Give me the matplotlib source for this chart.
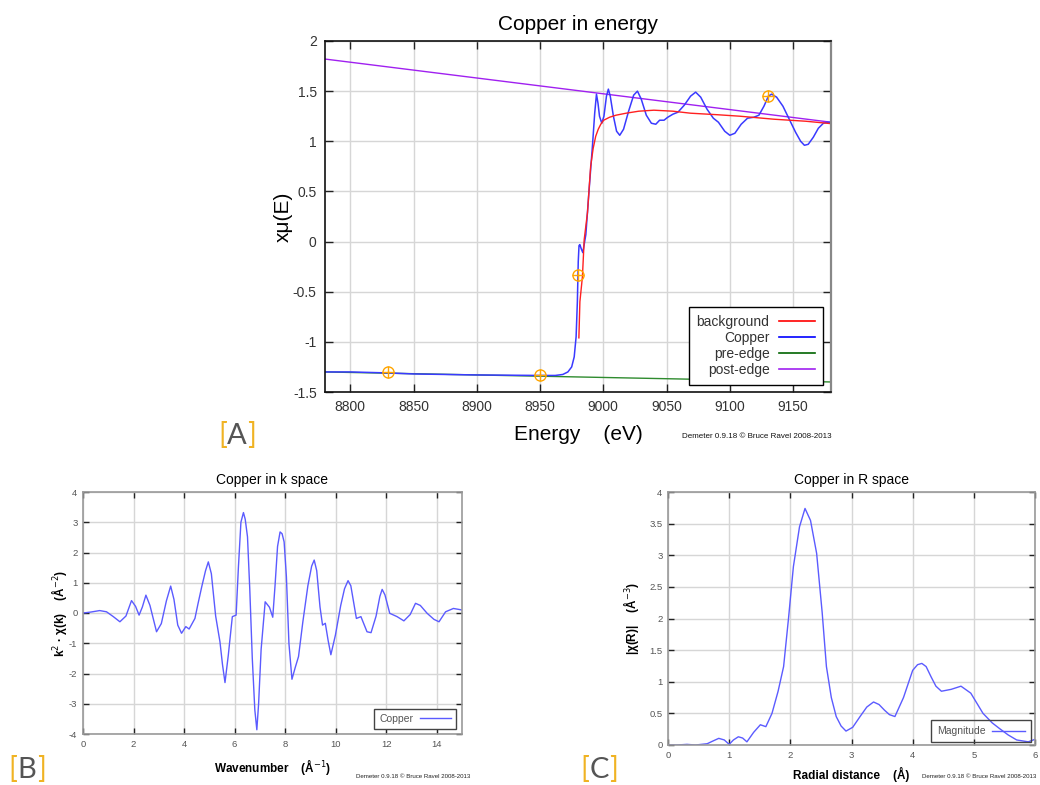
import matplotlib
matplotlib.use("Agg")
import matplotlib.pyplot as plt

plt.rcParams['font.family'] = ['Liberation Sans', 'DejaVu Sans']
plt.rcParams['axes.unicode_minus'] = False

# ---- energy space data ----
energy = [8780, 8800, 8830, 8850, 8900, 8950, 8962, 8968, 8972, 8975, 8977,
          8978.5, 8979.5, 8980.2, 8980.8, 8981.5, 8982.5, 8983.8, 8986.2,
          8988.8, 8991.4, 8993.2, 8994.6, 8995.8, 8997, 8998.8, 9000.5,
          9002.5, 9004, 9005.5, 9008, 9010.5, 9013, 9016, 9020, 9024, 9027,
          9030, 9034, 9038, 9041.5, 9044.5, 9048, 9051, 9055, 9059, 9064,
          9069, 9073, 9077, 9082, 9087, 9091, 9096, 9100, 9104, 9109, 9114,
          9119, 9123, 9127, 9130.5, 9133, 9137, 9142, 9147, 9152, 9156, 9159,
          9162, 9166, 9170, 9174, 9177, 9180]
copper = [-1.30, -1.30, -1.31, -1.32, -1.33, -1.335, -1.335, -1.325, -1.30,
          -1.25, -1.15, -0.95, -0.60, -0.20, -0.04, -0.03, -0.07, -0.11, 0.07,
          0.52, 0.95, 1.28, 1.47, 1.38, 1.25, 1.18, 1.25, 1.45, 1.52, 1.45,
          1.25, 1.10, 1.06, 1.12, 1.30, 1.46, 1.50, 1.42, 1.26, 1.18, 1.17,
          1.21, 1.21, 1.24, 1.27, 1.29, 1.36, 1.45, 1.49, 1.44, 1.32, 1.23,
          1.19, 1.10, 1.06, 1.08, 1.17, 1.23, 1.24, 1.26, 1.35, 1.45, 1.47,
          1.44, 1.35, 1.22, 1.09, 1.00, 0.96, 0.97, 1.04, 1.13, 1.18, 1.19,
          1.19]

bkg_energy = [8980.7, 8981.5, 8983.5, 8984.9, 8987.5, 8990, 8992, 8994,
              8996, 8998, 9000.3, 9005, 9010, 9018, 9028, 9040, 9055, 9069,
              9090, 9108, 9135, 9160, 9180]
background = [-0.96, -0.60, -0.35, 0.02, 0.29, 0.75, 0.93, 1.05, 1.12, 1.17,
              1.21, 1.24, 1.26, 1.28, 1.30, 1.31, 1.30, 1.28, 1.265, 1.25,
              1.22, 1.20, 1.176]

pre_energy = [8780, 9180]
pre_edge = [-1.30, -1.40]
post_energy = [8780, 9180]
post_edge = [1.82, 1.19]

marker_e = [8830, 8950, 8980, 9130]
marker_mu = [-1.30, -1.33, -0.33, 1.45]

# ---- k space data ----
k = [0, 0.3, 0.66, 0.93, 1.2, 1.46, 1.7, 1.92, 2.08, 2.22, 2.35, 2.49, 2.65,
     2.91, 3.1, 3.3, 3.47, 3.6, 3.75, 3.9, 4.07, 4.2, 4.43, 4.55, 4.7, 4.85,
     4.96, 5.08, 5.25, 5.42, 5.52, 5.62, 5.75, 5.91, 6.06, 6.15, 6.25, 6.35,
     6.42, 6.51, 6.6, 6.7, 6.8, 6.88, 6.95, 7.05, 7.21, 7.38, 7.51, 7.6, 7.7,
     7.8, 7.88, 7.96, 8.05, 8.15, 8.27, 8.4, 8.53, 8.7, 8.9, 9.05, 9.15,
     9.25, 9.38, 9.48, 9.59, 9.7, 9.81, 9.99, 10.2, 10.35, 10.49, 10.6,
     10.82, 11.0, 11.24, 11.4, 11.6, 11.75, 11.84, 11.95, 12.14, 12.43,
     12.7, 12.95, 13.16, 13.35, 13.62, 13.89, 14.09, 14.35, 14.66, 15.0]
chi_k = [0.0, 0.03, 0.08, 0.04, -0.12, -0.29, -0.1, 0.41, 0.22, -0.07, 0.2,
         0.59, 0.25, -0.62, -0.35, 0.4, 0.89, 0.45, -0.4, -0.67, -0.45,
         -0.53, -0.18, 0.3, 0.87, 1.4, 1.69, 1.3, -0.1, -0.95, -1.7, -2.3,
         -1.4, -0.12, -0.07, 1.5, 3.0, 3.32, 3.1, 2.52, 0.8, -1.5, -3.2,
         -3.86, -3.0, -1.2, 0.37, 0.19, -0.14, 0.9, 2.2, 2.68, 2.62, 2.35,
         1.2, -1.0, -2.19, -1.8, -1.44, -0.3, 0.9, 1.55, 1.75, 1.4, 0.2, -0.4,
         -0.34, -0.9, -1.38, -0.73, 0.25, 0.8, 1.07, 0.9, -0.18, -0.12, -0.62,
         -0.65, -0.1, 0.55, 0.78, 0.6, -0.01, -0.12, -0.26, -0.05, 0.32, 0.25,
         -0.01, -0.21, -0.29, 0.04, 0.15, 0.1]

# ---- R space data ----
r = [0, 0.15, 0.31, 0.45, 0.64, 0.75, 0.83, 0.92, 1.0, 1.07, 1.15, 1.22,
     1.29, 1.4, 1.51, 1.6, 1.7, 1.8, 1.89, 1.97, 2.05, 2.15, 2.24, 2.33,
     2.43, 2.52, 2.59, 2.67, 2.75, 2.83, 2.91, 3.02, 3.14, 3.25, 3.36, 3.45,
     3.54, 3.62, 3.71, 3.85, 4.0, 4.08, 4.15, 4.22, 4.3, 4.38, 4.47, 4.63,
     4.79, 4.95, 5.15, 5.3, 5.42, 5.56, 5.7, 5.89, 6.0]
chi_r = [0.0, 0.0, 0.01, 0.0, 0.02, 0.07, 0.105, 0.08, 0.01, 0.08, 0.13,
         0.11, 0.05, 0.2, 0.32, 0.29, 0.5, 0.85, 1.24, 2.0, 2.82, 3.45, 3.74,
         3.55, 3.03, 2.1, 1.24, 0.75, 0.45, 0.3, 0.22, 0.28, 0.45, 0.6, 0.68,
         0.64, 0.55, 0.48, 0.45, 0.75, 1.18, 1.27, 1.29, 1.24, 1.08, 0.93,
         0.85, 0.88, 0.93, 0.82, 0.50, 0.35, 0.26, 0.16, 0.08, 0.05, 0.09]

W, H = 1040, 785
fig = plt.figure(figsize=(W / 100, H / 100), dpi=100)


def axes_px(l, t, r_, b):
    return fig.add_axes([l / W, 1 - b / H, (r_ - l) / W, (b - t) / H])


def ftext(x, y, s, **kw):
    # x, y in pixels from the top-left corner
    return fig.text(x / W, 1 - y / H, s, **kw)


def style(ax, spine_col, tick_size, tick_col, ticklen):
    ax.grid(True, color="#d6d6d6", lw=1.0)
    ax.set_axisbelow(True)
    ax.tick_params(direction="in", top=True, right=True, length=ticklen,
                   width=1, labelsize=tick_size, labelcolor=tick_col,
                   color="#222222", pad=6)
    for s in ax.spines.values():
        s.set_color(spine_col)
        s.set_linewidth(1.2)


def bracket_label(x, y, letter, size):
    kw = dict(fontsize=size, family="Lato", ha="center", va="baseline")
    ftext(x - 14, y, "[", color="#f0b323", **kw)
    ftext(x, y, letter, color="#555555", **kw)
    ftext(x + 14, y, "]", color="#f0b323", **kw)


# ---------------- top: energy ----------------
ax = axes_px(325, 41, 831, 392)
ax.plot(pre_energy, pre_edge, color="#2e8b2e", lw=1.0, label="pre-edge")
ax.plot(post_energy, post_edge, color="#a020f0", lw=1.0, label="post-edge")
ax.plot(energy, copper, color="#3a3aff", lw=1.1, label="Copper")
ax.plot(bkg_energy, background, color="#ff2020", lw=1.0, label="background")
ax.plot(marker_e, marker_mu, ls="none", marker="o", ms=8, mfc="none",
        mec="#ffa500", mew=1.0)
ax.plot(marker_e, marker_mu, ls="none", marker="+", ms=8, mec="#ffa500",
        mew=1.0)
ax.set_xlim(8780, 9180)
ax.set_ylim(-1.5, 2)
ax.set_xticks([8800, 8850, 8900, 8950, 9000, 9050, 9100, 9150])
ax.set_yticks([-1.5, -1, -0.5, 0, 0.5, 1, 1.5, 2])
ax.set_yticklabels(["-1.5", "-1", "-0.5", "0", "0.5", "1", "1.5", "2"])
style(ax, "#111111", 10, "#333333", 6)
ax.spines["right"].set_color("#888888")
ax.spines["right"].set_linewidth(1.6)
ax.set_title("Copper in energy", fontsize=15, pad=8)
ax.set_xlabel("Energy    (eV)", fontsize=15, labelpad=8)
ax.set_ylabel("xμ(E)", fontsize=15, labelpad=0)

handles, labels = ax.get_legend_handles_labels()
order = [labels.index(n) for n in ["background", "Copper", "pre-edge", "post-edge"]]
leg_colors = {"background": "#ff0000", "Copper": "#0000ff",
              "pre-edge": "#006400", "post-edge": "#a020f0"}
leg_handles = [plt.Line2D([], [], color=leg_colors[labels[i]], lw=1.2) for i in order]
leg = ax.legend(leg_handles, [labels[i] for i in order], loc="lower right",
                bbox_to_anchor=(0.984, 0.02), borderaxespad=0, fontsize=10,
                markerfirst=False, fancybox=False, framealpha=1,
                edgecolor="black", handlelength=2.6, labelspacing=0.15,
                borderpad=0.55, handletextpad=0.7)
leg.get_frame().set_linewidth(1.0)
for t in leg.get_texts():
    t.set_color("#333333")
ftext(832, 436, "Demeter 0.9.18 © Bruce Ravel 2008-2013", fontsize=5.8,
      ha="right", va="center", color="#111111")
bracket_label(237, 444, "A", 21)

# ---------------- bottom left: k space ----------------
ax2 = axes_px(83, 492, 462, 734)
ax2.plot(k, chi_k, color="#5b5bff", lw=1.0, label="Copper")
ax2.set_xlim(0, 15)
ax2.set_ylim(-4, 4)
ax2.set_xticks(range(0, 15, 2))
ax2.set_yticks(range(-4, 5))
style(ax2, "#999999", 6.8, "#555555", 4)
ax2.tick_params(pad=4)
ax2.set_title("Copper in k space", fontsize=10, pad=6)
ax2.set_xlabel("Wavenumber    (Å$^{-1}$)", fontsize=8.5, fontweight="bold",
               labelpad=6)
ax2.set_ylabel("k$^2$ · χ(k)    (Å$^{-2}$)", fontsize=8.5, fontweight="bold",
               labelpad=0)
leg2 = ax2.legend(loc="lower right", bbox_to_anchor=(0.985, 0.02),
                  borderaxespad=0, fontsize=7.5, markerfirst=False,
                  fancybox=False, framealpha=1, edgecolor="#444444",
                  handlelength=3.0, borderpad=0.5, handletextpad=0.6)
for t in leg2.get_texts():
    t.set_color("#555555")
ftext(470, 776, "Demeter 0.9.18 © Bruce Ravel 2008-2013", fontsize=4.4,
      ha="right", va="center", color="#222222")
bracket_label(27, 778, "B", 21)

# ---------------- bottom right: R space ----------------
ax3 = axes_px(668, 492, 1035, 745)
ax3.plot(r, chi_r, color="#5b5bff", lw=1.0, label="Magnitude")
ax3.set_xlim(0, 6)
ax3.set_ylim(0, 4)
ax3.set_xticks(range(0, 7))
ax3.set_yticks([0, 0.5, 1, 1.5, 2, 2.5, 3, 3.5, 4])
ax3.set_yticklabels(["0", "0.5", "1", "1.5", "2", "2.5", "3", "3.5", "4"])
style(ax3, "#999999", 6.8, "#555555", 4)
ax3.tick_params(pad=4)
ax3.set_title("Copper in R space", fontsize=10, pad=6)
ax3.set_xlabel("Radial distance    (Å)", fontsize=8.5, fontweight="bold",
               labelpad=5)
ax3.set_ylabel("|χ(R)|    (Å$^{-3}$)", fontsize=8.5, fontweight="bold",
               labelpad=6)
leg3 = ax3.legend(loc="lower right", bbox_to_anchor=(0.99, 0.01),
                  borderaxespad=0, fontsize=7.5, markerfirst=False,
                  fancybox=False, edgecolor="#444444",
                  handlelength=3.2, borderpad=0.6, handletextpad=0.6)
leg3.get_frame().set_facecolor("none")
leg3.get_frame().set_alpha(None)
leg3.get_frame().set_edgecolor("#444444")
for t in leg3.get_texts():
    t.set_color("#555555")
ftext(1036, 776, "Demeter 0.9.18 © Bruce Ravel 2008-2013", fontsize=4.4,
      ha="right", va="center", color="#222222")
bracket_label(599, 778, "C", 21)

fig.savefig("out.png", dpi=100)
